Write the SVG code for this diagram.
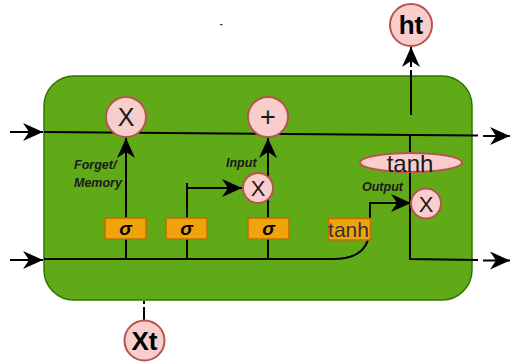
<svg xmlns="http://www.w3.org/2000/svg" width="512" height="364" viewBox="0 0 512 364">
<defs>
<marker id="arr" markerUnits="userSpaceOnUse" markerWidth="30" markerHeight="30" refX="0" refY="0" viewBox="-26 -15 30 30" orient="auto" overflow="visible">
<path d="M-20,-9 L0,0 L-20,9 L-14,0 Z" fill="#000"/>
</marker>
<style>
.ln{stroke:#000;stroke-width:2;fill:none}
.cir{fill:#f8cecc;stroke:#b85450;stroke-width:2}
.box{fill:#f0a30a;stroke:#bd7000;stroke-width:1.5}
.op{font-family:"Liberation Sans",Arial,sans-serif;font-size:25px;fill:#1a1a1a;text-anchor:middle}
.lbl{font-family:"Liberation Sans",Arial,sans-serif;font-size:12.5px;font-weight:bold;font-style:italic;fill:#1a1a1a}
.sig{font-family:"Liberation Sans",Arial,sans-serif;font-size:19px;font-weight:bold;font-style:italic;fill:#000;text-anchor:middle}
.big{font-family:"Liberation Sans",Arial,sans-serif;font-size:26px;font-weight:bold;fill:#000;text-anchor:middle}
</style>
</defs>
<rect id="cell" x="44" y="76" width="428" height="224" rx="30" ry="30" fill="#60a917" stroke="#2d7600" stroke-width="1.5"/>
<rect x="220" y="24" width="2.5" height="1.2" fill="#333"/>
<g id="connectors">
<line class="ln" x1="10" y1="132" x2="43" y2="132" marker-end="url(#arr)"/>
<line class="ln" x1="44" y1="132" x2="478" y2="135.5"/>
<line class="ln" x1="483" y1="136" x2="510" y2="136" marker-end="url(#arr)"/>
<line class="ln" x1="10" y1="260" x2="43" y2="260" marker-end="url(#arr)"/>
<path class="ln" d="M44,259 L333,259 Q362,259 368,240"/>
<line class="ln" x1="126" y1="259" x2="126" y2="138" marker-end="url(#arr)"/>
<path class="ln" d="M187,259 L187,183 M187,188 L242,188" marker-end="url(#arr)"/>
<line class="ln" x1="268" y1="259" x2="268" y2="138" marker-end="url(#arr)"/>
<path class="ln" d="M370,218 L370,202 M370,203 L411,203" marker-end="url(#arr)"/>
<path class="ln" d="M410,135 L410,259 L478,260"/>
<line class="ln" x1="483" y1="260.5" x2="510" y2="260.5" marker-end="url(#arr)"/>
<line class="ln" x1="411" y1="115" x2="411" y2="70"/>
<line class="ln" x1="411" y1="67" x2="411" y2="47" marker-end="url(#arr)"/>
<line class="ln" x1="144" y1="301" x2="144" y2="304"/>
<line class="ln" x1="144" y1="307" x2="144" y2="320"/>
</g>
<g id="forget-x"><circle class="cir" cx="126" cy="117" r="20"/><text class="op" x="126" y="126">X</text></g>
<g id="plus"><circle class="cir" cx="268" cy="117" r="20"/><text class="op" x="268" y="126" style="font-size:27px">+</text></g>
<g id="input-x"><circle class="cir" cx="258" cy="188" r="15"/><text class="op" x="258" y="196" style="font-size:22px">X</text></g>
<g id="output-x"><circle class="cir" cx="426" cy="203.5" r="15"/><text class="op" x="426" y="211.5" style="font-size:22px">X</text></g>
<g id="tanh-ell"><ellipse class="cir" cx="411" cy="162.5" rx="51" ry="9.5"/><text class="op" x="410" y="171.5" style="font-size:24px;fill:#1a1a1a">tanh</text></g>
<g id="ht"><circle class="cir" cx="411" cy="25" r="21"/><text class="big" x="411" y="34">ht</text></g>
<g id="xt"><circle class="cir" cx="144.5" cy="340.5" r="20"/><text class="big" x="144.5" y="349.5">Xt</text></g>
<g id="sig1"><rect class="box" x="105" y="218" width="41" height="21"/><text class="sig" x="125.5" y="234.5">σ</text></g>
<g id="sig2"><rect class="box" x="166" y="218" width="41" height="21"/><text class="sig" x="186.5" y="234.5">σ</text></g>
<g id="sig3"><rect class="box" x="248" y="218" width="41" height="21"/><text class="sig" x="268.5" y="234.5">σ</text></g>
<g id="tanh-box"><rect class="box" x="328.5" y="218.5" width="42" height="21.5"/><text x="348.5" y="237" style="font-family:'Liberation Sans',Arial,sans-serif;font-size:21px;fill:#333;text-anchor:middle">tanh</text></g>
<g id="labels">
<text class="lbl" x="74" y="169">Forget/</text>
<text class="lbl" x="74" y="187">Memory</text>
<text class="lbl" x="226" y="167">Input</text>
<text class="lbl" x="362" y="191">Output</text>
</g>
</svg>
